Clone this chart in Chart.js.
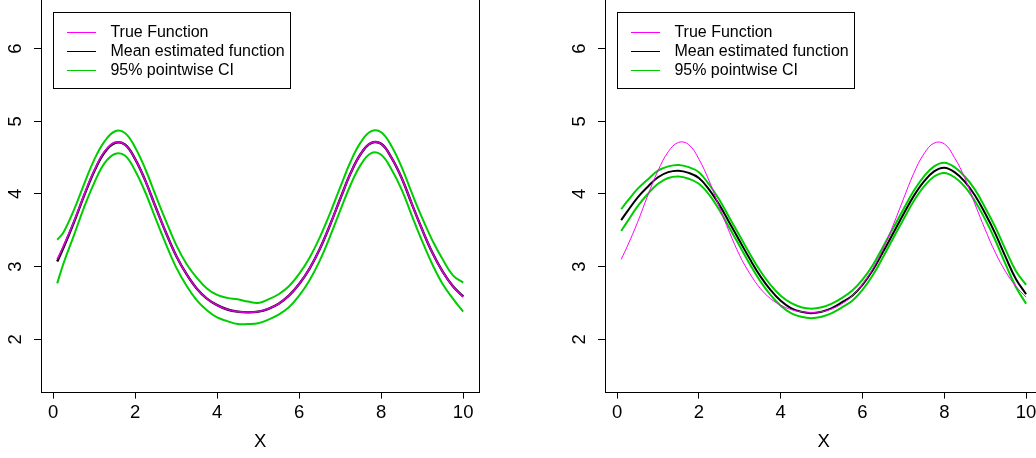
<!DOCTYPE html>
<html>
<head>
<meta charset="utf-8">
<script src="https://cdn.jsdelivr.net/npm/chart.js@4.4.0/dist/chart.umd.min.js"></script>
<style>
  html, body { margin: 0; padding: 0; background: #fff; overflow: hidden; }
  #wrap { position: relative; width: 1036px; height: 458px; overflow: hidden; }
  .panel { position: absolute; top: -40px; width: 530px; height: 498px; }
  #p1 { left: 0; }
  #p2 { left: 518px; }
</style>
</head>
<body>
<div id="wrap">
  <div class="panel" id="p1"><canvas id="c1" width="530" height="498"></canvas></div>
  <div class="panel" id="p2"><canvas id="c2" width="530" height="498"></canvas></div>
</div>
<script>
// evaluation grid
const xs = [0.1, 0.25, 0.5, 0.75, 1.0, 1.25, 1.5, 1.75, 2.0, 2.25, 2.5, 2.75, 3.0, 3.25,
  3.5, 3.75, 4.0, 4.25, 4.5, 4.75, 5.0, 5.25, 5.5, 5.75, 6.0, 6.25, 6.5, 6.75, 7.0,
  7.25, 7.5, 7.75, 8.0, 8.25, 8.5, 8.75, 9.0, 9.25, 9.5, 9.75, 10.0];

const trueFn = [3.10, 3.28, 3.61, 3.98, 4.32, 4.58, 4.71, 4.68, 4.48, 4.18, 3.82, 3.47, 3.15, 2.90,
  2.70, 2.56, 2.47, 2.41, 2.38, 2.37, 2.38, 2.42, 2.49, 2.60, 2.76, 2.97, 3.24, 3.57, 3.93,
  4.28, 4.55, 4.70, 4.69, 4.50, 4.22, 3.86, 3.51, 3.19, 2.93, 2.73, 2.58];

// left panel fit
const meanLeft = [3.07, 3.26, 3.60, 3.97, 4.31, 4.57, 4.70, 4.68, 4.48, 4.18, 3.82, 3.47, 3.15, 2.90,
  2.70, 2.56, 2.47, 2.41, 2.38, 2.37, 2.38, 2.42, 2.49, 2.60, 2.76, 2.97, 3.24, 3.57, 3.93,
  4.28, 4.55, 4.70, 4.69, 4.50, 4.22, 3.86, 3.51, 3.19, 2.93, 2.73, 2.59];
const upperLeft = [3.37, 3.47, 3.77, 4.13, 4.47, 4.72, 4.86, 4.84, 4.64, 4.34, 3.98, 3.63, 3.30, 3.04,
  2.85, 2.70, 2.61, 2.57, 2.55, 2.52, 2.50, 2.55, 2.62, 2.73, 2.90, 3.12, 3.40, 3.73, 4.09,
  4.44, 4.71, 4.86, 4.85, 4.66, 4.37, 4.01, 3.67, 3.36, 3.10, 2.88, 2.78];
const lowerLeft = [2.77, 3.04, 3.42, 3.81, 4.15, 4.42, 4.55, 4.53, 4.32, 4.02, 3.66, 3.31, 2.99, 2.74,
  2.54, 2.40, 2.30, 2.25, 2.21, 2.21, 2.22, 2.27, 2.34, 2.44, 2.60, 2.81, 3.08, 3.41, 3.77,
  4.12, 4.40, 4.56, 4.54, 4.34, 4.06, 3.70, 3.35, 3.03, 2.76, 2.56, 2.38];

// right panel fit
const meanRight = [3.64, 3.76, 3.95, 4.10, 4.23, 4.30, 4.32, 4.29, 4.22, 4.06, 3.85, 3.60, 3.35, 3.10,
  2.87, 2.68, 2.53, 2.43, 2.38, 2.36, 2.38, 2.43, 2.51, 2.60, 2.75, 2.95, 3.20, 3.46, 3.72,
  3.97, 4.17, 4.31, 4.36, 4.30, 4.17, 3.98, 3.73, 3.45, 3.13, 2.83, 2.62];
const upperRight = [3.79, 3.90, 4.07, 4.20, 4.32, 4.38, 4.40, 4.37, 4.30, 4.13, 3.92, 3.67, 3.42, 3.17,
  2.94, 2.75, 2.60, 2.50, 2.44, 2.42, 2.44, 2.49, 2.57, 2.67, 2.82, 3.02, 3.27, 3.53, 3.79,
  4.04, 4.24, 4.38, 4.43, 4.37, 4.24, 4.06, 3.81, 3.54, 3.23, 2.94, 2.75];
const lowerRight = [3.49, 3.62, 3.83, 4.00, 4.14, 4.22, 4.24, 4.21, 4.14, 3.99, 3.78, 3.53, 3.28, 3.03,
  2.80, 2.61, 2.46, 2.36, 2.31, 2.29, 2.31, 2.36, 2.44, 2.53, 2.68, 2.88, 3.13, 3.39, 3.65,
  3.90, 4.10, 4.24, 4.29, 4.23, 4.10, 3.90, 3.65, 3.36, 3.03, 2.72, 2.49];

const xTicks = [0, 2, 4, 6, 8, 10];
const yTicks = [2, 3, 4, 5, 6];
const xRange = [-0.296, 10.396];
const yRange = [1.28, 7.22];
const legendLabels = ['True Function', 'Mean estimated function', '95% pointwise CI'];
const legendAt = [0, 6.5];

const MAGENTA = '#ff00ff';
const GREEN = '#00cd00';
const BLACK = '#000000';
const FONT = '"Liberation Sans", Arial, Helvetica, sans-serif';
const AXIS_PX = 18.5;

const pts = ys => xs.map((x, i) => ({ x: x, y: ys[i] }));

function curve(ys, color, width, order) {
  return {
    data: pts(ys),
    borderColor: color,
    borderWidth: width,
    pointRadius: 0,
    tension: 0.4,
    fill: false,
    order: order
  };
}

// box, rotated y labels and the legend, drawn the way base R does them
const rBase = {
  id: 'rBase',
  afterDraw(chart) {
    const { ctx, chartArea: a, scales: { x, y } } = chart;
    ctx.save();
    ctx.strokeStyle = '#000';
    ctx.lineWidth = 1;
    ctx.strokeRect(Math.round(a.left) + 0.5, Math.round(a.top) + 0.5,
      Math.round(a.right - a.left), Math.round(a.bottom - a.top));

    ctx.fillStyle = '#000';
    ctx.font = AXIS_PX + 'px ' + FONT;
    ctx.textAlign = 'center';
    ctx.textBaseline = 'middle';
    yTicks.forEach(v => {
      ctx.save();
      ctx.translate(a.left - 25, y.getPixelForValue(v));
      ctx.rotate(-Math.PI / 2);
      ctx.fillText(String(v), 0, 0);
      ctx.restore();
    });

    ctx.font = '16px ' + FONT;
    const lx = Math.round(x.getPixelForValue(legendAt[0]));
    const ly = Math.round(y.getPixelForValue(legendAt[1]));
    ctx.fillStyle = '#fff';
    ctx.fillRect(lx, ly, 237, 76);
    ctx.strokeStyle = '#000';
    ctx.strokeRect(lx + 0.5, ly + 0.5, 237, 76);
    const colors = [MAGENTA, BLACK, GREEN];
    ctx.textAlign = 'left';
    colors.forEach((c, i) => {
      const ry = Math.round(ly + 19.6 + i * 19.2) + 0.5;
      ctx.strokeStyle = c;
      ctx.beginPath();
      ctx.moveTo(lx + 14, ry);
      ctx.lineTo(lx + 43, ry);
      ctx.stroke();
      ctx.fillStyle = '#000';
      ctx.fillText(legendLabels[i], lx + 57.4, ry);
    });
    ctx.restore();
  }
};

function makeChart(id, datasets, padLeft, padRight) {
  const gridOpts = { drawOnChartArea: false, tickLength: 7, color: '#000', tickColor: '#000', lineWidth: 1 };
  return new Chart(document.getElementById(id), {
    type: 'line',
    data: { datasets: datasets },
    options: {
      responsive: false,
      animation: false,
      layout: { padding: { left: padLeft, right: padRight, top: 0, bottom: 0 } },
      plugins: { legend: { display: false }, tooltip: { enabled: false } },
      scales: {
        x: {
          type: 'linear',
          min: xRange[0],
          max: xRange[1],
          afterBuildTicks: s => { s.ticks = xTicks.map(v => ({ value: v })); },
          afterFit: s => { s.height = 66.4; },
          grid: gridOpts,
          border: { display: false },
          ticks: { color: '#000', font: { family: FONT, size: AXIS_PX, lineHeight: 1.2 }, padding: 3, maxRotation: 0, autoSkip: false },
          title: {
            display: true, text: 'X', color: '#000',
            font: { family: FONT, size: AXIS_PX, lineHeight: 1.2 },
            padding: { top: 0, bottom: 5.2 }
          }
        },
        y: {
          type: 'linear',
          min: yRange[0],
          max: yRange[1],
          afterBuildTicks: s => { s.ticks = yTicks.map(v => ({ value: v })); },
          afterFit: s => { s.width = 41; },
          grid: gridOpts,
          border: { display: false },
          ticks: { display: false }
        }
      }
    },
    plugins: [rBase]
  });
}

makeChart('c1', [
  curve(trueFn, '#d800d8', 1.7, 0),
  curve(meanLeft, BLACK, 2.4, 1),
  curve(upperLeft, GREEN, 2, 2),
  curve(lowerLeft, GREEN, 2, 3)
], 0, 50.6);

makeChart('c2', [
  curve(trueFn, MAGENTA, 1, 0),
  curve(meanRight, BLACK, 2, 1),
  curve(upperRight, GREEN, 2, 2),
  curve(lowerRight, GREEN, 2, 3)
], 46, 5.7);
</script>
</body>
</html>
